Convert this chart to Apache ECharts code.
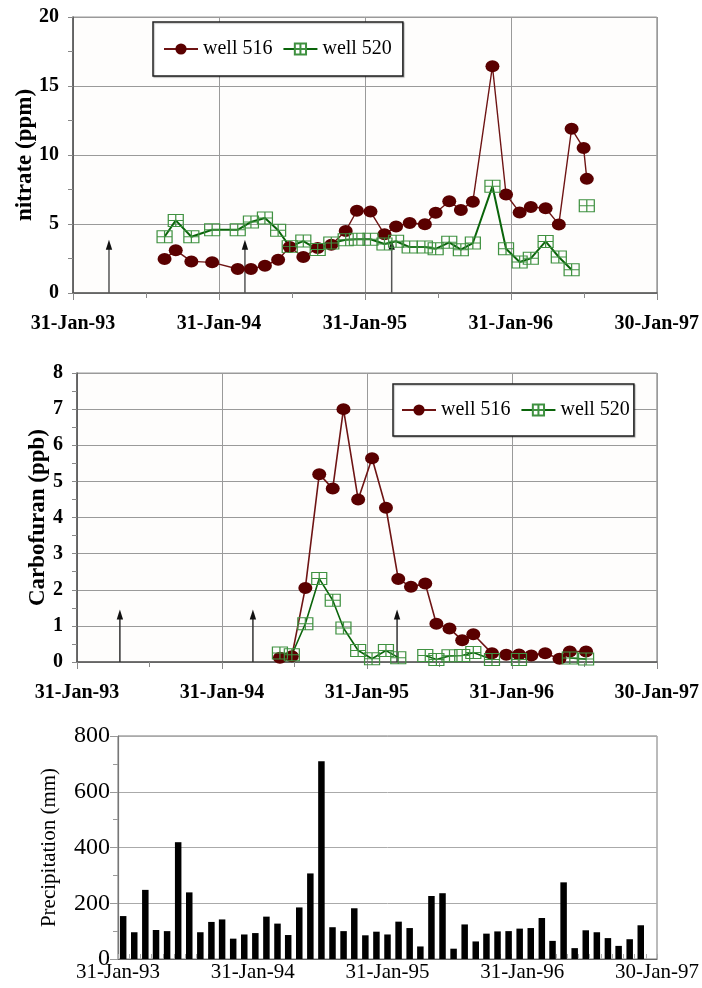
<!DOCTYPE html>
<html>
<head>
<meta charset="utf-8">
<script src="https://cdn.jsdelivr.net/npm/echarts@6/dist/echarts.min.js"></script>
<style>
  html, body { margin: 0; padding: 0; background: #fff; }
  #chart { width: 702px; height: 988px; }
</style>
</head>
<body>
<div id="chart"></div>
<script>
// ---- Nitrate (ppm) in the two wells ----
const nitrateDates = [
  '1993-09-17', '1993-10-15', '1993-11-23', '1994-01-14', '1994-03-19', '1994-04-21',
  '1994-05-26', '1994-06-28', '1994-07-27', '1994-08-30', '1994-10-05', '1994-11-08',
  '1994-12-14', '1995-01-11', '1995-02-14', '1995-03-21', '1995-04-19', '1995-05-23',
  '1995-06-30', '1995-07-27', '1995-08-30', '1995-09-28', '1995-10-28', '1995-12-16',
  '1996-01-19', '1996-02-22', '1996-03-21', '1996-04-27', '1996-05-30', '1996-07-01',
  '1996-07-31', '1996-08-08'
];
const nitrate516 = [
  2.47, 3.09, 2.29, 2.22, 1.74, 1.74, 1.98, 2.41, 3.33, 2.61, 3.26, 3.5,
  4.5, 5.96, 5.9, 4.25, 4.82, 5.08, 4.98, 5.82, 6.65, 6.02, 6.62, 16.43,
  7.14, 5.84, 6.24, 6.14, 4.97, 11.9, 10.5, 8.27
];
const nitrate520 = [
  4.08, 5.26, 4.08, 4.58, 4.58, 5.15, 5.43, 4.55, 3.36, 3.76, 3.15, 3.62,
  3.86, 3.9, 3.9, 3.55, 3.75, 3.33, 3.33, 3.2, 3.67, 3.14, 3.62, 7.73,
  3.21, 2.25, 2.51, 3.74, 2.61, 1.69, null, 6.33
];
const nitrateApplications = ['1993-05-01', '1994-04-06', '1995-04-08'];

// ---- Carbofuran (ppb) in the two wells ----
const carboDates = [
  '1994-06-26', '1994-07-26', '1994-08-29', '1994-10-03', '1994-11-06', '1994-12-03',
  '1995-01-09', '1995-02-13', '1995-03-20', '1995-04-20', '1995-05-22', '1995-06-27',
  '1995-07-25', '1995-08-27', '1995-09-28', '1995-10-26', '1995-12-12', '1996-01-17',
  '1996-02-18', '1996-03-20', '1996-04-24', '1996-05-30', '1996-06-25', '1996-08-05'
];
const carbo516 = [
  0.12, 0.16, 2.05, 5.2, 4.8, 7.0, 4.5, 5.64, 4.27, 2.3, 2.08, 2.17,
  1.06, 0.93, 0.6, 0.77, 0.24, 0.2, 0.21, 0.18, 0.24, 0.09, 0.29, 0.29
];
const carbo520 = [
  0.25, 0.2, 1.06, 2.31, 1.71, 0.94, 0.32, 0.09, 0.32, 0.12, null, 0.18,
  0.07, 0.17, 0.18, 0.26, 0.07, null, 0.07, null, null, null, 0.11, 0.08
];
const carboApplications = ['1993-05-19', '1994-04-19', '1995-04-17'];

// ---- Monthly precipitation (mm) ----
const rainDates = [
  '1993-02-14', '1993-03-16', '1993-04-15', '1993-05-14', '1993-06-13', '1993-07-13',
  '1993-08-12', '1993-09-11', '1993-10-11', '1993-11-09', '1993-12-09', '1994-01-08',
  '1994-02-07', '1994-03-09', '1994-04-08', '1994-05-07', '1994-06-06', '1994-07-06',
  '1994-08-05', '1994-09-04', '1994-10-04', '1994-11-02', '1994-12-02', '1995-01-01',
  '1995-01-31', '1995-03-02', '1995-04-01', '1995-04-30', '1995-05-30', '1995-06-29',
  '1995-07-29', '1995-08-28', '1995-09-27', '1995-10-26', '1995-11-25', '1995-12-25',
  '1996-01-24', '1996-02-23', '1996-03-24', '1996-04-22', '1996-05-22', '1996-06-21',
  '1996-07-21', '1996-08-20', '1996-09-19', '1996-10-18', '1996-11-17', '1996-12-17'
];
const rainMm = [
  154, 96, 248, 104, 100, 419, 239, 96, 133, 142, 73, 88,
  93, 152, 127, 86, 185, 307, 709, 114, 100, 182, 85, 98,
  88, 134, 111, 45, 226, 236, 37, 124, 63, 91, 99, 100,
  109, 111, 147, 65, 275, 39, 103, 96, 75, 47, 71, 121
];

// ---- Axis definitions ----
const axisStart = '1993-01-31';
const axisEnd = '1997-01-30';
const axisStepDays = 365;

// ---- helpers: dates become day offsets from the axis start ----
const DAY_MS = 86400000;
function utc(s) { const p = s.split('-').map(Number); return Date.UTC(p[0], p[1] - 1, p[2]); }
const ORIGIN = utc(axisStart);
function dayOf(s) { return Math.round((utc(s) - ORIGIN) / DAY_MS); }
const MONTHS = ['Jan','Feb','Mar','Apr','May','Jun','Jul','Aug','Sep','Oct','Nov','Dec'];
function fmtDay(v) {
  const d = new Date(ORIGIN + v * DAY_MS);
  return d.getUTCDate() + '-' + MONTHS[d.getUTCMonth()] + '-' + String(d.getUTCFullYear()).slice(2);
}
function pairs(dates, vals) { return dates.map((d, i) => [dayOf(d), vals[i]]); }
const AXIS_MAX = dayOf(axisEnd);

const SERIF = '"Liberation Serif", "Times New Roman", serif';
const C516 = '#5a0000';
const C516_LINE = '#6e1414';
const C520 = '#3f9140';
const C520_LINE = '#0a640a';
const BOXCROSS = 'path://M0,0H12V10H0Z M6,0V10 M0,5H12';

function dateAxis(gridIndex, extra) {
  return Object.assign({
    type: 'value', gridIndex: gridIndex, min: 0, max: AXIS_MAX, interval: axisStepDays,
    axisLine: { show: true, onZero: false, lineStyle: { color: '#555', width: 1.6 } },
    axisTick: { show: true, length: 7, lineStyle: { color: '#888', width: 1 } },
    minorTick: { show: true, splitNumber: 2, length: 5, lineStyle: { color: '#888' } },
    splitLine: { show: true, lineStyle: { color: '#9a9a9a', width: 1 } },
    axisLabel: {
      formatter: fmtDay, color: '#000', fontFamily: SERIF, fontWeight: 'bold', fontSize: 20,
      margin: 21, showMinLabel: true, showMaxLabel: true, hideOverlap: false
    }
  }, extra || {});
}

function applicationArrows(xi, yi, dates, tip, color) {
  return {
    type: 'custom', xAxisIndex: xi, yAxisIndex: yi, silent: true, z: 1,
    data: dates.map(d => [dayOf(d), tip]),
    renderItem: function (params, api) {
      const base = api.coord([api.value(0), 0]);
      const top = api.coord([api.value(0), api.value(1)]);
      return {
        type: 'group',
        children: [
          { type: 'line', shape: { x1: base[0], y1: base[1], x2: top[0], y2: top[1] + 6 },
            style: { stroke: color, lineWidth: 1.5 } },
          { type: 'polygon', shape: { points: [[top[0], top[1]], [top[0] - 3.2, top[1] + 10], [top[0] + 3.2, top[1] + 10]] },
            style: { fill: '#111' } }
        ]
      };
    }
  };
}

function wellLegend(pos) {
  return Object.assign({
    data: ['well 516', 'well 520'],
    orient: 'horizontal',
    backgroundColor: '#fff',
    borderColor: '#222', borderWidth: 1.5, borderRadius: 0,
    shadowColor: 'rgba(0,0,0,0.25)', shadowOffsetX: 1, shadowOffsetY: 1, shadowBlur: 1,
    itemWidth: 34, itemHeight: 14, itemGap: 10,
    selectedMode: false,
    textStyle: { fontFamily: SERIF, fontSize: 20, color: '#000' }
  }, pos);
}

const chart = echarts.init(document.getElementById('chart'), null, { renderer: 'canvas' });

chart.setOption({
  animation: false,
  backgroundColor: '#fff',
  grid: [
    { left: 73, top: 17, width: 585, height: 276, show: true, borderColor: '#9a9a9a', borderWidth: 1, backgroundColor: '#fefdfc' },
    { left: 77, top: 373, width: 583, height: 289, show: true, borderColor: '#9a9a9a', borderWidth: 1, backgroundColor: '#fefdfc' },
    { left: 118, top: 736, width: 542, height: 223, show: true, borderColor: '#777', borderWidth: 1, backgroundColor: '#fff' }
  ],
  legend: [
    wellLegend({ left: 153, top: 22, padding: [17, 11, 17, 10] }),
    wellLegend({ left: 393, top: 384, padding: [16, 4, 16, 8] })
  ],
  xAxis: [
    dateAxis(0),
    dateAxis(1),
    dateAxis(2, {
      axisLine: { show: true, onZero: false, lineStyle: { color: '#666', width: 1.2 } },
      axisTick: { show: true, inside: true, length: 5, lineStyle: { color: '#aaa' } },
      minorTick: { show: true, splitNumber: 12, length: 5, lineStyle: { color: '#aaa' } },
      splitLine: { show: false },
      axisLabel: {
        formatter: fmtDay, color: '#000', fontFamily: SERIF, fontSize: 21,
        margin: 3, showMinLabel: true, showMaxLabel: true, hideOverlap: false
      }
    })
  ],
  yAxis: [
    {
      type: 'value', gridIndex: 0, min: 0, max: 20, interval: 5,
      name: 'nitrate (ppm)', nameLocation: 'middle', nameGap: 36, nameMoveOverlap: false,
      nameTextStyle: { fontFamily: SERIF, fontWeight: 'bold', fontSize: 23, color: '#000' },
      axisLine: { show: true, lineStyle: { color: '#555', width: 1.6 } },
      axisTick: { show: true, length: 5, lineStyle: { color: '#888' } },
      minorTick: { show: true, splitNumber: 2, length: 5, lineStyle: { color: '#888' } },
      splitLine: { show: true, lineStyle: { color: '#9a9a9a' } },
      axisLabel: { color: '#000', fontFamily: SERIF, fontWeight: 'bold', fontSize: 20, margin: 14 }
    },
    {
      type: 'value', gridIndex: 1, min: 0, max: 8, interval: 1,
      name: 'Carbofuran (ppb)', nameLocation: 'middle', nameGap: 27, nameMoveOverlap: false,
      nameTextStyle: { fontFamily: SERIF, fontWeight: 'bold', fontSize: 23, color: '#000' },
      axisLine: { show: true, lineStyle: { color: '#555', width: 1.6 } },
      axisTick: { show: true, length: 5, lineStyle: { color: '#888' } },
      minorTick: { show: true, splitNumber: 2, length: 5, lineStyle: { color: '#888' } },
      splitLine: { show: true, lineStyle: { color: '#9a9a9a' } },
      axisLabel: { color: '#000', fontFamily: SERIF, fontWeight: 'bold', fontSize: 20, margin: 14 }
    },
    {
      type: 'value', gridIndex: 2, min: 0, max: 800, interval: 200,
      name: 'Precipitation (mm)', nameLocation: 'middle', nameGap: 58, nameMoveOverlap: false,
      nameTextStyle: { fontFamily: SERIF, fontSize: 21, color: '#000' },
      axisLine: { show: true, lineStyle: { color: '#777', width: 1.2 } },
      axisTick: { show: true, length: 8, lineStyle: { color: '#999' } },
      minorTick: { show: true, splitNumber: 2, length: 5, lineStyle: { color: '#999' } },
      splitLine: { show: true, lineStyle: { color: '#aaa' } },
      axisLabel: { color: '#000', fontFamily: SERIF, fontSize: 24, margin: 8 }
    }
  ],
  series: [
    applicationArrows(0, 0, nitrateApplications, 3.86, '#555'),
    {
      name: 'well 516', type: 'line', xAxisIndex: 0, yAxisIndex: 0,
      data: pairs(nitrateDates, nitrate516),
      symbol: 'circle', symbolSize: [14, 12], showAllSymbol: true,
      itemStyle: { color: C516 }, lineStyle: { color: C516_LINE, width: 1.4 },
      emphasis: { disabled: true }
    },
    {
      name: 'well 520', type: 'line', xAxisIndex: 0, yAxisIndex: 0,
      data: pairs(nitrateDates, nitrate520), connectNulls: false,
      symbol: BOXCROSS, symbolSize: [15, 12], showAllSymbol: true,
      itemStyle: { color: 'rgba(255,255,255,0)', borderColor: C520, borderWidth: 1.1 },
      lineStyle: { color: C520_LINE, width: 2 },
      emphasis: { disabled: true }
    },
    applicationArrows(1, 1, carboApplications, 1.45, '#333'),
    {
      name: 'well 516', type: 'line', xAxisIndex: 1, yAxisIndex: 1,
      data: pairs(carboDates, carbo516),
      symbol: 'circle', symbolSize: [14, 12], showAllSymbol: true,
      itemStyle: { color: C516 }, lineStyle: { color: C516_LINE, width: 1.6 },
      emphasis: { disabled: true }
    },
    {
      name: 'well 520', type: 'line', xAxisIndex: 1, yAxisIndex: 1,
      data: pairs(carboDates, carbo520), connectNulls: false,
      symbol: BOXCROSS, symbolSize: [15, 12], showAllSymbol: true,
      itemStyle: { color: 'rgba(255,255,255,0)', borderColor: C520, borderWidth: 1.1 },
      lineStyle: { color: C520_LINE, width: 1.6 },
      emphasis: { disabled: true }
    },
    {
      name: 'precipitation', type: 'bar', xAxisIndex: 2, yAxisIndex: 2,
      data: pairs(rainDates, rainMm), barWidth: 6.5,
      itemStyle: { color: '#000' },
      emphasis: { disabled: true }
    }
  ]
});
</script>
</body>
</html>
